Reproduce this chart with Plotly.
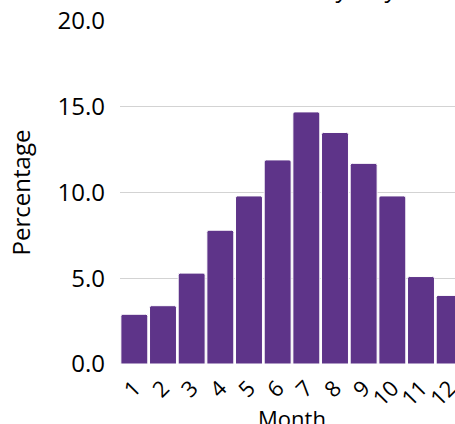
import plotly.graph_objects as go

# Monthly share (%)
months = [1, 2, 3, 4, 5, 6, 7, 8, 9, 10, 11, 12]
percentages = [2.9, 3.4, 5.3, 7.8, 9.8, 11.9, 14.7, 13.5, 11.7, 9.8, 5.1, 4.0]
y_ticks = [0, 5, 10, 15, 20]

title_text = "Share of Rainy Days"
bar_color = "#5e3489"
font_family = "Open Sans"

fig = go.Figure(
    go.Bar(
        x=months,
        y=percentages,
        marker=dict(color=bar_color, line=dict(color="white", width=1), cornerradius=2),
    )
)

fig.update_layout(
    width=465,
    height=444,
    margin=dict(l=120, r=1, t=21, b=80),
    paper_bgcolor="white",
    plot_bgcolor="white",
    bargap=0.06,
    showlegend=False,
    font=dict(family=font_family, size=24, color="black"),
    annotations=[
        dict(
            text=title_text,
            xref="paper",
            yref="paper",
            x=0.515,
            y=1.045,
            xanchor="center",
            yanchor="bottom",
            showarrow=False,
            font=dict(family=font_family, size=24, color="black"),
        )
    ],
)

fig.update_xaxes(
    title=dict(text="Month", font=dict(size=22), standoff=0),
    tickmode="array",
    tickvals=months,
    ticktext=[str(m) for m in months],
    tickangle=-45,
    tickfont=dict(size=22),
    ticklabelstandoff=6,
    showgrid=False,
    showline=False,
    zeroline=False,
    automargin=True,
)

fig.update_yaxes(
    title=dict(text="Percentage", font=dict(size=24), standoff=20),
    tickmode="array",
    tickvals=y_ticks,
    tickformat=".1f",
    tickfont=dict(size=24),
    range=[0, 20],
    showgrid=True,
    gridcolor="#d3d3d3",
    gridwidth=1,
    zeroline=False,
    showline=False,
    ticklabelstandoff=14,
    automargin=True,
)

fig.write_html("out.html")
